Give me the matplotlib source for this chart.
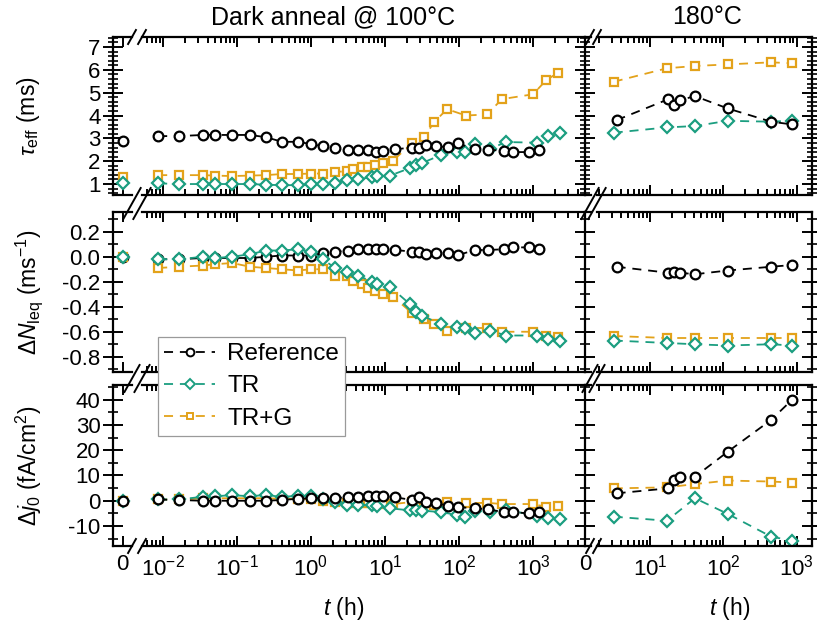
import numpy as np
import matplotlib.pyplot as plt
from matplotlib.lines import Line2D
from matplotlib.ticker import (FixedLocator, LogLocator, NullFormatter,
                               FormatStrFormatter, MultipleLocator)

plt.rcParams['font.family'] = ['Liberation Sans', 'DejaVu Sans']
plt.rcParams['mathtext.fontset'] = 'custom'
plt.rcParams['mathtext.rm'] = 'Liberation Sans'
plt.rcParams['mathtext.it'] = 'Liberation Sans:italic'
plt.rcParams['mathtext.bf'] = 'Liberation Sans:bold'
plt.rcParams['axes.unicode_minus'] = False

# ---- data: dark anneal @ 100C (t = 0 is the first entry) ----
t_ref = [0, 0.0086, 0.0164, 0.0347, 0.0505, 0.0856, 0.150, 0.247, 0.406, 0.667,
         1.0, 1.45, 2.11, 3.16, 4.32, 5.89, 7.55, 9.39, 13.6, 23.2, 28.8, 35.8,
         48.9, 71.0, 96.9, 164, 246, 405, 537, 883, 1205]
tau_ref = [2.9, 3.1, 3.1, 3.15, 3.15, 3.15, 3.15, 3.05, 2.85, 2.85, 2.75, 2.65,
           2.6, 2.48, 2.49, 2.47, 2.42, 2.43, 2.52, 2.6, 2.58, 2.72, 2.65, 2.62,
           2.78, 2.52, 2.5, 2.46, 2.4, 2.4, 2.47]
dN_ref = [0.0, -0.02, -0.02, -0.01, -0.01, -0.01, -0.01, 0.0, 0.01, 0.01, 0.01,
          0.03, 0.04, 0.05, 0.06, 0.06, 0.065, 0.065, 0.055, 0.04, 0.04, 0.02,
          0.027, 0.03, 0.013, 0.054, 0.054, 0.06, 0.075, 0.075, 0.06]
dj_ref = [0, 0.5, 0.3, 0, 0, 0, 0, 0, 0.3, 0.8, 1.0, 1.0, 1.0, 1.5, 1.6, 1.7,
          1.8, 1.8, 1.4, 0.3, 1.3, -0.6, -1.0, -1.9, -2.5, -3.0, -3.4, -4.5,
          -4.5, -5.0, -4.5]

t_tr = [0, 0.0086, 0.0164, 0.0347, 0.0505, 0.0856, 0.150, 0.247, 0.406, 0.667,
        1.0, 1.45, 2.11, 3.07, 4.32, 6.67, 7.80, 11.7, 21.8, 26.2, 31.6, 57.1,
        94, 121, 164, 262, 432, 1130, 1600, 2320]
tau_tr = [1.03, 1.03, 1.0, 1.0, 1.0, 1.0, 1.0, 0.97, 0.95, 0.95, 0.98, 1.0,
          1.05, 1.17, 1.22, 1.3, 1.34, 1.37, 1.7, 1.83, 1.92, 2.27, 2.4, 2.42,
          2.77, 2.54, 2.84, 2.81, 3.1, 3.22]
dN_tr = [0.0, -0.02, -0.02, 0.0, -0.01, 0.0, 0.02, 0.05, 0.05, 0.06, 0.04,
         -0.02, -0.09, -0.12, -0.15, -0.2, -0.22, -0.24, -0.38, -0.44, -0.47,
         -0.54, -0.56, -0.57, -0.61, -0.59, -0.63, -0.63, -0.66, -0.67]
dj_tr = [0, 0.5, 0.5, 1.6, 1.8, 2.2, 1.8, 2.3, 1.5, 2.0, 1.8, 0.5, -0.5, -1.5,
         -1.7, -1.8, -2.0, -3.0, -3.8, -3.8, -3.9, -4.5, -5.6, -6.3, -4.0, -4.3,
         -3.5, -6.0, -6.8, -7.2]

t_trg = [0, 0.0086, 0.0164, 0.0347, 0.0505, 0.0856, 0.150, 0.247, 0.406, 0.667,
         1.0, 1.45, 2.11, 3.07, 3.70, 4.89, 5.89, 7.32, 9.39, 12.8, 23.2, 33.7,
         45.9, 68.8, 124, 239, 381, 1000, 1500, 2180]
tau_trg = [1.3, 1.39, 1.39, 1.39, 1.37, 1.35, 1.37, 1.39, 1.44, 1.44, 1.46, 1.46,
           1.54, 1.55, 1.66, 1.74, 1.76, 1.83, 1.93, 2.03, 2.78, 3.05, 3.7, 4.28,
           4.0, 4.05, 4.72, 4.93, 5.54, 5.88]
dN_trg = [0.0, -0.09, -0.08, -0.07, -0.06, -0.05, -0.08, -0.09, -0.1, -0.11,
          -0.1, -0.1, -0.15, -0.15, -0.19, -0.22, -0.25, -0.27, -0.3, -0.32,
          -0.45, -0.5, -0.54, -0.59, -0.57, -0.57, -0.6, -0.6, -0.63, -0.64]
dj_trg = [0, 0.5, 0.5, 1.0, 1.0, 1.0, 1.0, 1.0, 0.8, 0.8, 0.5, 0.0, -0.5, -0.8,
          -1.0, -1.0, -1.0, -1.2, -1.2, -1.3, -0.5, -1.0, -1.5, -0.3, -1.0, -0.8,
          -1.3, -1.3, -2.4, -2.0]

# ---- data: 180C ----
t180_ref = [3.5, 17.6, 21.5, 26, 41, 115, 450, 870]
tau180_ref = [3.80, 4.71, 4.46, 4.68, 4.85, 4.31, 3.73, 3.61]
dN180_ref = [-0.08, -0.128, -0.12, -0.128, -0.14, -0.11, -0.08, -0.066]
dj180_ref = [2.95, 4.9, 8.2, 9.3, 9.5, 19.4, 32, 40]

t180_tr = [3.2, 17, 41, 115, 450, 870]
tau180_tr = [3.25, 3.48, 3.54, 3.77, 3.73, 3.78]
dN180_tr = [-0.67, -0.69, -0.70, -0.71, -0.70, -0.71]
dj180_tr = [-6.3, -7.9, 1.0, -5.2, -14.2, -15.8]
tau180_trg = [5.48, 6.07, 6.17, 6.24, 6.33, 6.29]
dN180_trg = [-0.634, -0.65, -0.65, -0.65, -0.65, -0.65]
dj180_trg = [4.9, 5.3, 6.6, 8.0, 7.6, 7.2]

TEAL = '#1b9e80'
ORANGE = '#e3a21a'

styles = {
    'ref': dict(color='black', marker='o', ms=7, mew=1.6, label='Reference'),
    'tr': dict(color=TEAL, marker='D', ms=6, mew=1.6, label='TR'),
    'trg': dict(color=ORANGE, marker='s', ms=6.2, mew=1.6, label='TR+G'),
}
DASH = (0, (5, 3.8))

left = [
    {'ref': (t_ref, tau_ref), 'tr': (t_tr, tau_tr), 'trg': (t_trg, tau_trg)},
    {'ref': (t_ref, dN_ref), 'tr': (t_tr, dN_tr), 'trg': (t_trg, dN_trg)},
    {'ref': (t_ref, dj_ref), 'tr': (t_tr, dj_tr), 'trg': (t_trg, dj_trg)},
]
right = [
    {'ref': (t180_ref, tau180_ref), 'tr': (t180_tr, tau180_tr), 'trg': (t180_tr, tau180_trg)},
    {'ref': (t180_ref, dN180_ref), 'tr': (t180_tr, dN180_tr), 'trg': (t180_tr, dN180_trg)},
    {'ref': (t180_ref, dj180_ref), 'tr': (t180_tr, dj180_tr), 'trg': (t180_tr, dj180_trg)},
]
# drawing order (last on top)
order = [['trg', 'tr', 'ref'], ['ref', 'trg', 'tr'], ['trg', 'tr', 'ref']]

ylabels = [r'$\tau_{\mathrm{eff}}$ (ms)', r'$\Delta N_{\mathrm{leq}}$ (ms$^{-1}$)',
           r'$\Delta j_0$ (fA/cm$^2$)']
ylims = [(0.52, 7.44), (-0.922, 0.358), (-17.9, 45.8)]
ymajor = [[1, 2, 3, 4, 5, 6, 7], [-0.8, -0.6, -0.4, -0.2, 0.0, 0.2],
          [-10, 0, 10, 20, 30, 40]]
yminor = [0.2, 0.1, 5]

W, H = 817, 627
fig = plt.figure(figsize=(W / 100, H / 100), dpi=100)


def box(x0, x1, y0, y1):
    return [x0 / W, 1 - y1 / H, (x1 - x0) / W, (y1 - y0) / H]


rows = [(37, 195), (212, 372), (385, 546)]
LZ, LL, RZ, RL = (113, 132), (142, 585), (585, 591), (597, 812)

SPW = 1.6
TFS = 16
xt = dict(direction='in', top=True, bottom=True, width=1.4)
yt_major = dict(direction='inout', length=14, width=1.4)
yt_minor = dict(direction='inout', length=6.5, width=1.2)


def plot_series(ax, t, y, key, zero):
    t = np.asarray(t, float)
    y = np.asarray(y, float)
    st = styles[key]
    m = (t == 0) if zero else (t > 0)
    if not m.any():
        return
    ax.plot(t[m], y[m], ls='none' if zero else DASH, lw=1.3, color=st['color'],
            marker=st['marker'], ms=st['ms'], mew=st['mew'], mfc='white',
            mec=st['color'])


for r, (y0, y1) in enumerate(rows):
    bottom = (r == 2)
    azl = fig.add_axes(box(*LZ, y0, y1))
    all_ = fig.add_axes(box(*LL, y0, y1))
    azr = fig.add_axes(box(*RZ, y0, y1))
    alr = fig.add_axes(box(*RL, y0, y1))

    for ax in (azl, all_, azr, alr):
        ax.set_ylim(*ylims[r])
        ax.yaxis.set_major_locator(FixedLocator(ymajor[r]))
        ax.yaxis.set_minor_locator(MultipleLocator(yminor[r]))
        for s in ax.spines.values():
            s.set_linewidth(SPW)
        ax.patch.set_alpha(0)

    # zero segments
    azl.set_xlim(-1, 1)
    azl.set_xticks([0])
    azl.xaxis.set_minor_locator(FixedLocator([]))
    azl.spines['right'].set_visible(False)
    azl.tick_params(axis='x', which='major', length=7, labelbottom=bottom,
                    labelsize=TFS, pad=6, **xt)
    azl.tick_params(axis='y', which='major', left=True, right=False,
                    labelsize=TFS, pad=2, **yt_major)
    azl.tick_params(axis='y', which='minor', left=True, right=False, **yt_minor)
    if r == 1:
        azl.yaxis.set_major_formatter(FormatStrFormatter('%.1f'))

    azr.set_xlim(0, 1)
    azr.set_xticks([0])
    azr.xaxis.set_minor_locator(FixedLocator([]))
    azr.spines['right'].set_visible(False)
    azr.tick_params(axis='x', which='major', length=0, labelbottom=bottom,
                    labelsize=TFS, pad=6, **xt)
    azr.tick_params(axis='y', which='major', left=True, right=False,
                    labelleft=False, **yt_major)
    azr.tick_params(axis='y', which='minor', left=True, right=False, **yt_minor)

    # log segments
    all_.set_xscale('log')
    all_.set_xlim(10 ** -2.284, 10 ** 3.703)
    alr.set_xscale('log')
    alr.set_xlim(10 ** 0.277, 10 ** 3.21)
    for ax in (all_, alr):
        ax.xaxis.set_major_locator(LogLocator(base=10, numticks=20))
        ax.xaxis.set_minor_locator(LogLocator(base=10, subs=np.arange(2, 10), numticks=20))
        ax.xaxis.set_minor_formatter(NullFormatter())
        ax.tick_params(axis='x', which='major', length=7, labelbottom=bottom,
                       labelsize=TFS, pad=6, **xt)
        ax.tick_params(axis='x', which='minor', length=4, **xt)
        ax.spines['left'].set_visible(False)
    all_.spines['right'].set_visible(False)
    all_.tick_params(axis='y', which='both', left=False, right=False, labelleft=False)
    alr.tick_params(axis='y', which='major', left=False, right=True,
                    labelleft=False, labelright=False, **yt_major)
    alr.tick_params(axis='y', which='minor', left=False, right=True, **yt_minor)

    for key in order[r]:
        t, y = left[r][key]
        plot_series(azl, t, y, key, True)
        plot_series(all_, t, y, key, False)
        t2, y2 = right[r][key]
        plot_series(alr, t2, y2, key, False)

    fig.text(29 / W, 1 - (y0 + y1) / 2 / H, ylabels[r], rotation=90,
             ha='center', va='center', fontsize=16.5)

# axis break marks
spans = [(30, 44), (188, 219), (365, 392), (539, 553)]
for xc in (132, 142, 590, 597):
    for ya, yb in spans:
        dx = 0.28 * (yb - ya)
        fig.add_artist(Line2D([(xc - dx) / W, (xc + dx) / W],
                              [1 - yb / H, 1 - ya / H],
                              transform=fig.transFigure, color='black', lw=1.4))

fig.text(333 / W, 1 - 17 / H, 'Dark anneal @ 100°C', ha='center', va='center', fontsize=18)
fig.text(707 / W, 1 - 17 / H, '180°C', ha='center', va='center', fontsize=18)
fig.text(344 / W, 1 - 608 / H, r'$t$ (h)', ha='center', va='center', fontsize=16.5)
fig.text(730 / W, 1 - 608 / H, r'$t$ (h)', ha='center', va='center', fontsize=16.5)

handles = []
for key in ('ref', 'tr', 'trg'):
    st = styles[key]
    handles.append(Line2D([], [], ls=DASH, lw=1.3, color=st['color'], marker=st['marker'],
                          ms=st['ms'] * 0.8, mew=1.4, mfc='white', mec=st['color'],
                          label=st['label']))
leg = fig.legend(handles=handles, loc='upper left', bbox_to_anchor=(158 / W, 1 - 337 / H),
                 frameon=True, fancybox=False, edgecolor='#9a9a9a', framealpha=1,
                 fontsize=17.5, handlelength=2.1, handletextpad=0.5, borderpad=0.25,
                 labelspacing=0.42, borderaxespad=0)
leg.get_frame().set_linewidth(0.9)

fig.savefig('out.png', dpi=100)
